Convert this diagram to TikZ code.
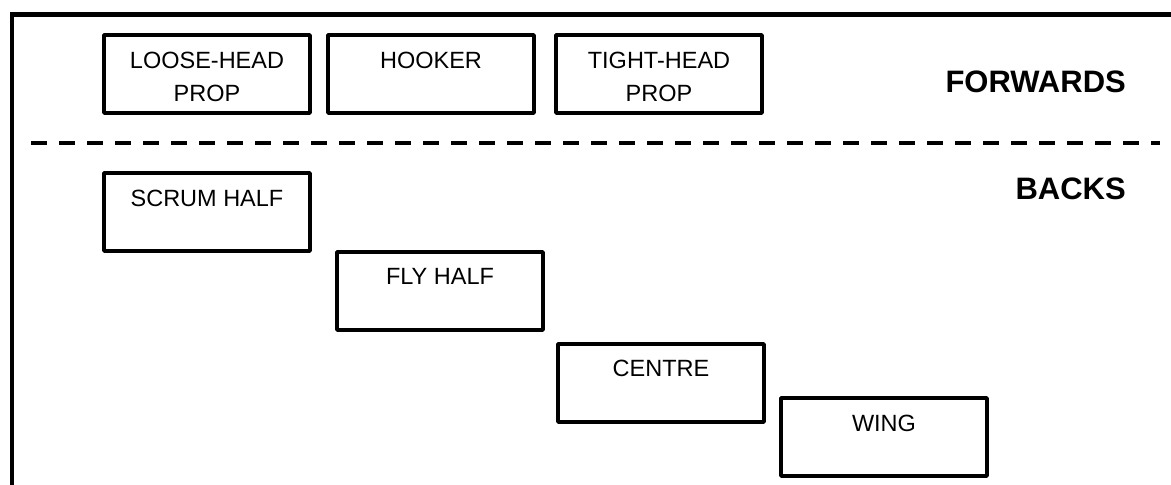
\documentclass[tikz,border=0pt]{standalone}
\usepackage{fontspec}
\setmainfont{Liberation Sans}
\begin{document}
\begin{tikzpicture}[x=1pt,y=-1pt,
  frameline/.style={line width=4.5pt},
  divider/.style={line width=4pt,dash pattern=on 16pt off 12pt},
  posbox/.style={draw,line width=3.5pt,line join=round,minimum width=206pt,minimum height=78pt,inner sep=0pt},
  poslabel/.style={anchor=base,align=center,inner sep=0pt,font=\fontsize{23.5}{33}\selectfont},
  grouplabel/.style={anchor=base east,inner sep=0pt,font=\fontsize{31}{36}\selectfont\bfseries}]
  \clip (0,0) rectangle (1171,485);
  % outer frame, running off the right and bottom edges
  \draw[frameline] (12,495) |- (1185,14.5);
  % dashed divider between forwards and backs
  \coordinate (dl) at (31,142.5);
  \coordinate (dr) at (1160,142.5);
  \draw[divider] (dl) -- (dr);
  % front row
  \node[posbox] (lhp) at (207,74) {};
  \node[posbox] (hook) at (431,74) {};
  \node[posbox] (thp) at (659,74) {};
  % backs, stepping down to the right
  \node[posbox] (sh) at (207,212) {};
  \node[posbox] (fh) at (440,291) {};
  \node[posbox] (ctr) at (661,383) {};
  \node[posbox] (wing) at (884,437) {};
  % position names (two-line names sit on the baseline of their last line)
  \node[poslabel] (tlhp) at ([yshift=-68pt]lhp.north) {LOOSE-HEAD\\PROP};
  \node[poslabel] (thook) at ([yshift=-35pt]hook.north) {HOOKER};
  \node[poslabel] (tthp) at ([yshift=-68pt]thp.north) {TIGHT-HEAD\\PROP};
  \node[poslabel] (tsh) at ([yshift=-35pt]sh.north) {SCRUM HALF};
  \node[poslabel] (tfh) at ([yshift=-34pt]fh.north) {FLY HALF};
  \node[poslabel] (tctr) at ([yshift=-34pt]ctr.north) {CENTRE};
  \node[poslabel] (twing) at ([yshift=-35pt]wing.north) {WING};
  % group names
  \node[grouplabel] (fwd) at (1126,92) {FORWARDS};
  \node[grouplabel] (bks) at (1126,199) {BACKS};
\end{tikzpicture}
\end{document}
